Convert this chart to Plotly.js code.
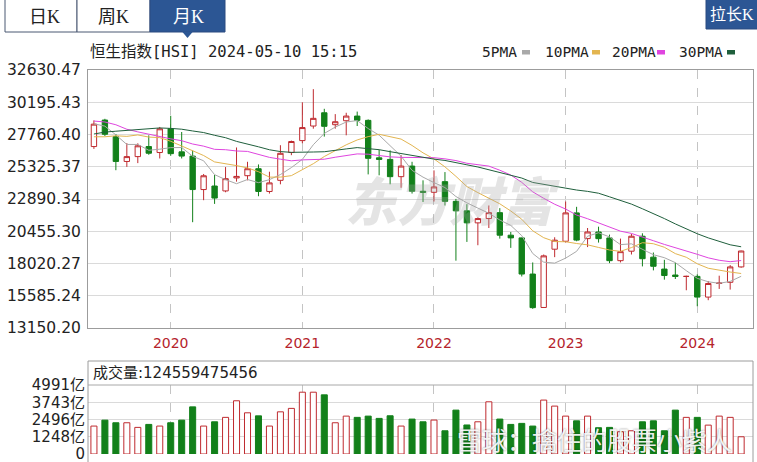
<!DOCTYPE html>
<html><head><meta charset="utf-8">
<script src="https://cdn.plot.ly/plotly-3.0.1.min.js"></script>
<style>html,body{margin:0;padding:0;background:#fff;}#chart{width:757px;height:462px;}</style>
</head><body><div id="chart"></div>
<script>
// ---------------- data ----------------
const months = ['2019-06','2019-07','2019-08','2019-09','2019-10','2019-11','2019-12',
'2020-01','2020-02','2020-03','2020-04','2020-05','2020-06','2020-07','2020-08','2020-09','2020-10','2020-11','2020-12',
'2021-01','2021-02','2021-03','2021-04','2021-05','2021-06','2021-07','2021-08','2021-09','2021-10','2021-11','2021-12',
'2022-01','2022-02','2022-03','2022-04','2022-05','2022-06','2022-07','2022-08','2022-09','2022-10','2022-11','2022-12',
'2023-01','2023-02','2023-03','2023-04','2023-05','2023-06','2023-07','2023-08','2023-09','2023-10','2023-11','2023-12',
'2024-01','2024-02','2024-03','2024-04','2024-05'];
const openP  = [26850,28850,27600,25725,26092,26850,26400,28190,26450,26130,23603,23870,23500,24480,24650,25177,23459,24300,26400,
27300,28400,29400,28500,28800,29152,28828,26000,25879,24576,25377,23475,23398,24200,22713,21997,21089,21415,21860,20157,19954,17223,14700,19100,
19700,21842,19900,20400,19950,18234,18950,20079,18500,17600,17150,17043,17047,15485,16511,16600,17763];
const highP  = [28827,28945,27800,27111,27094,27700,28330,29175,27950,26550,24780,24700,25303,26782,25700,25500,24950,26950,27300,
30191,31183,29700,29300,29400,29490,28900,26600,26560,26200,25700,24300,25050,24924,22900,22500,21500,22400,22200,20400,19970,18100,18700,20000,
22700,22300,20700,20800,20200,19900,20250,20300,18850,18300,18080,17100,17200,16700,17100,17900,18990];
const lowP   = [26672,27650,25064,25317,25600,26230,25950,26150,25950,21139,22800,22520,23400,24200,24300,23100,23300,24000,26200,
27100,28200,27600,28200,27700,28400,24748,24680,24000,23740,23300,22665,22700,22400,18235,19650,19400,20700,19900,19200,17040,14597,14690,18500,
19600,19700,19260,19600,18050,18100,18700,17800,17500,16800,16850,16000,14794,15250,16100,16050,17700];
const closeP = [28543,27778,25725,26092,26907,26346,28190,26313,26130,23603,24644,22961,24427,24595,25177,23459,24107,26341,27231,
28284,28980,28378,28725,29152,28828,25961,25879,24576,25377,23475,23398,23802,22713,21997,21089,21415,21860,20157,19954,17223,14687,18597,19781,
21842,19786,20400,19895,18234,18916,20079,18382,17810,17112,17043,17047,15485,16511,16541,17763,18964];
const ma5  = [28565,28394,27729,27008,27009,26570,26652,26770,26777,26116,25776,24730,24353,24046,24361,24124,24353,24736,25263,
25884,26989,27843,28320,28704,28813,28209,27709,26879,26124,25054,24541,24126,23753,23077,22600,22203,21815,21304,20895,20122,18776,18124,18048,
18426,18939,20081,20341,20031,19446,19505,19101,18684,18460,18085,17479,16899,16640,16525,16669,17053];
const ma10 = [27589,27588,27663,27621,27727,27568,27523,27249,26893,26563,26173,25691,25561,25412,25239,24950,24542,24544,24655,
25123,25556,26098,26528,26983,27349,27599,27776,27599,27414,26933,26375,25917,25316,24601,23827,23372,22970,22528,21986,21361,20490,19969,19676,
19661,19530,19429,19232,19040,18936,19222,19591,19513,19246,18766,18492,18000,17662,17493,17377,17266];
const ma20 = [28776,28706,28496,28156,27960,27772,27641,27433,27292,27043,26881,26640,26612,26516,26483,26259,26032,25897,25774,
25843,25865,25895,26045,26198,26294,26274,26159,26072,26034,26028,25966,26008,25922,25792,25588,25485,25373,25064,24700,24147,23432,22943,22496,
22131,21678,21400,21101,20784,20461,20291,20040,19741,19461,19213,19011,18715,18447,18266,18157,18244];
const ma30 = [27796,27943,28009,28075,28151,28174,28255,28221,28160,28028,27908,27701,27518,27241,27053,26831,26608,26470,26413,
26403,26439,26459,26584,26672,26771,26705,26614,26464,26320,26206,26035,25902,25802,25665,25471,25307,25096,24891,24685,24472,24140,23995,23840,
23748,23568,23467,23326,23056,22779,22505,22152,21800,21413,21009,20616,20267,19955,19687,19433,19283];
// volume in 亿
const volume = [2020,2450,2260,2260,1925,2140,2020,2260,2450,3410,2020,2330,2650,3850,2980,2760,2020,3050,3300,
4470,4470,4280,2260,2740,2650,2740,2575,2765,2020,2525,2330,2455,1680,3175,2100,2330,3775,2525,2140,2215,2020,3900,3465,
2740,2400,2740,1900,1925,1610,1680,2330,2400,1680,3175,2650,2650,2090,2740,2650,1245.59];
const yTickLabels = ['13150.20','15585.24','18020.27','20455.30','22890.34','25325.37','27760.40','30195.43','32630.47'];
const volTickVals = [0,1248,2496,3743,4991];
const volTickText = ['0','1248亿','2496亿','3743亿','4991亿'];
const yearTickMonths = ['2020-01','2021-01','2022-01','2023-01','2024-01'];
const yearTickText = ['2020','2021','2022','2023','2024'];
const maNames = ['5PMA','10PMA','20PMA','30PMA'];
const maColors = ['#a9a9a9','#e3b550','#df45df','#1f5f3c'];
const titleText = '恒生指数[HSI] 2024-05-10 15:15';
const volHeader = '成交量:124559475456';

// ---------------- layout helpers ----------------
const W=757,H=462,L=88,R=4,T=70,B=8;
const PW=W-L-R, PH=H-T-B;
const px = x => (x-L)/PW;
const py = y => (H-B-y)/PH;
const RED='#bf2a2f', GREEN='#12801a';
const yTickVals = yTickLabels.map(Number);

const traces = [];
traces.push({type:'candlestick', x:months, open:openP, high:highP, low:lowP, close:closeP,
  increasing:{line:{color:RED,width:1}, fillcolor:'#ffffff'},
  decreasing:{line:{color:GREEN,width:1}, fillcolor:GREEN},
  whiskerwidth:0, hoverinfo:'skip', showlegend:false, xaxis:'x', yaxis:'y'});
[ma5,ma10,ma20,ma30].forEach((m,i)=>{
  traces.push({type:'scatter', mode:'lines', x:months, y:m, line:{color:maColors[i], width:1},
    hoverinfo:'skip', showlegend:false, xaxis:'x', yaxis:'y'});
});
const up = closeP.map((c,i)=>c>=openP[i]);
traces.push({type:'bar', x:months, y:volume, width:0.55,
  marker:{color:up.map(u=>u?'#ffffff':GREEN), line:{color:up.map(u=>u?RED:GREEN), width:1}},
  hoverinfo:'skip', showlegend:false, xaxis:'x2', yaxis:'y2'});

const shapes = [];
const annotations = [];
function rectPx(x0,y0,x1,y1,fill,line){
  shapes.push({type:'rect', xref:'paper', yref:'paper', x0:px(x0), x1:px(x1), y0:py(y1), y1:py(y0),
    fillcolor:fill, line:{color:line, width:1}, layer:'above'});
}
function textPx(x,y,text,font,xanchor){
  annotations.push({xref:'paper', yref:'paper', x:px(x), y:py(y), text:text, showarrow:false,
    xanchor:xanchor||'center', yanchor:'middle', font:font});
}
// volume panel frame and header separator
shapes.push({type:'rect', xref:'paper', yref:'paper', x0:0, x1:1, y0:py(470), y1:py(361),
  line:{color:'#9c9c9c', width:1}, fillcolor:'rgba(0,0,0,0)'});
shapes.push({type:'line', xref:'paper', yref:'paper', x0:0, x1:1, y0:py(385), y1:py(385),
  line:{color:'#a8a8a8', width:1}});
// buttons
const BLUE='#2c5694';
rectPx(5,-2,77,32,'#ffffff','#4b5872');
rectPx(77,-2,150,32,'#ffffff','#4b5872');
rectPx(150,-2,225,32,BLUE,'#2a4a80');
shapes.push({type:'path', xref:'paper', yref:'paper',
  path:`M ${px(182)} ${py(31.5)} L ${px(193)} ${py(31.5)} L ${px(187.5)} ${py(38)} Z`,
  fillcolor:BLUE, line:{color:BLUE, width:0}});
rectPx(706,-2,760,29,BLUE,'#2a4a80');
const btnFont = c => ({family:'Liberation Serif, Noto Sans CJK SC', size:18, color:c});
textPx(44,17,'日K',btnFont('#222'));
textPx(113,17,'周K',btnFont('#222'));
textPx(188,17,'月K',btnFont('#ffffff'));
textPx(732,14,'拉长K',{family:'Liberation Serif, Noto Sans CJK SC', size:16, color:'#ffffff'});
// title
textPx(88,52,titleText,{family:'DejaVu Sans Mono, Noto Sans CJK SC', size:15.5, color:'#222'},'left');
// MA legend
const legX=[480,543,610,677], swX=[522,592,657,727];
maNames.forEach((n,i)=>{
  textPx(legX[i],52,n,{family:'DejaVu Sans Mono', size:14.5, color:'#222'},'left');
  shapes.push({type:'rect', xref:'paper', yref:'paper', x0:px(swX[i]), x1:px(swX[i]+8), y0:py(54.5), y1:py(50),
    fillcolor:maColors[i], line:{width:0}});
});
// volume header
textPx(91,373,volHeader,{family:'DejaVu Sans, Noto Sans CJK SC', size:15, color:'#222'},'left');
// watermarks
textPx(452,198,'东方财富',{family:'Noto Sans CJK SC', size:52, color:'rgba(165,165,165,0.3)', weight:900, style:'italic'});
textPx(594,439,'雪球：擒住的股票小紫人',{family:'Noto Sans CJK SC', size:25, color:'rgba(255,255,255,0.92)', shadow:'0px 0px 2px rgba(0,0,0,0.55)'});

const gridC='#dadada', dashC='#c4c4c4', frameC='#9c9c9c';
const layout = {
  width:W, height:H, margin:{l:L,r:R,t:T,b:B,pad:0},
  paper_bgcolor:'#ffffff', plot_bgcolor:'#ffffff', showlegend:false, hovermode:false, dragmode:false,
  xaxis:{type:'category', anchor:'y', range:[-0.54,60.08], tickmode:'array', tickvals:yearTickMonths, ticktext:yearTickText,
    showgrid:true, gridcolor:dashC, griddash:'dash', gridwidth:1, ticks:'', showline:true, mirror:true, linecolor:frameC,
    zeroline:false, rangeslider:{visible:false}, fixedrange:true, ticklabelstandoff:2,
    tickfont:{family:'DejaVu Sans', size:14, color:'#b5232b'}},
  yaxis:{domain:[py(328),1], range:[yTickVals[0],yTickVals[yTickVals.length-1]], tickmode:'array',
    tickvals:yTickVals, ticktext:yTickLabels, showgrid:true, gridcolor:gridC, ticks:'', showline:true, mirror:true,
    linecolor:frameC, zeroline:false, fixedrange:true, ticklabelstandoff:3,
    tickfont:{family:'DejaVu Sans', size:15.5, color:'#222'}},
  xaxis2:{type:'category', anchor:'y2', range:[-0.54,60.08], tickmode:'array', tickvals:yearTickMonths, showticklabels:false,
    showgrid:true, gridcolor:dashC, griddash:'dash', ticks:'', showline:false, zeroline:false, fixedrange:true},
  yaxis2:{domain:[0,py(385)], range:[0,4991], tickmode:'array', tickvals:volTickVals, ticktext:volTickText,
    showgrid:true, gridcolor:gridC, ticks:'', showline:false, zeroline:false, fixedrange:true, ticklabelstandoff:2,
    ticklabelshift:4.5, ticklabeloverflow:'allow',
    tickfont:{family:'DejaVu Sans, Noto Sans CJK SC', size:15, color:'#222'}},
  shapes:shapes, annotations:annotations
};
Plotly.newPlot('chart', traces, layout, {staticPlot:true, displayModeBar:false});
</script></body></html>
